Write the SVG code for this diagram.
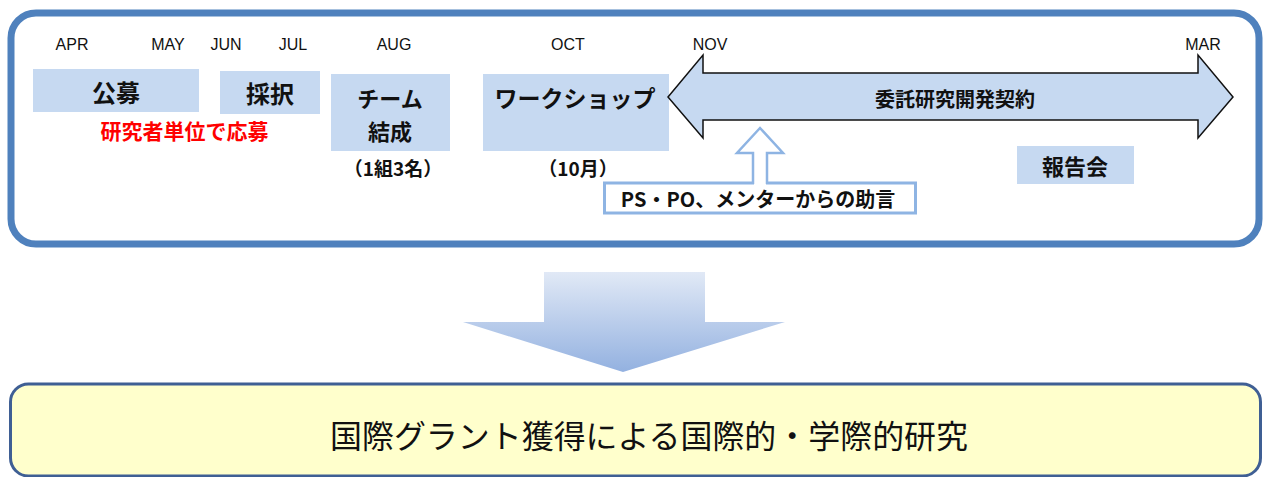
<svg xmlns="http://www.w3.org/2000/svg" width="1266" height="477" viewBox="0 0 1266 477">
<defs>
<linearGradient id="gDown" x1="0" y1="0" x2="0" y2="1">
<stop offset="0" stop-color="#e1e9f6"/>
<stop offset="1" stop-color="#93b1e0"/>
</linearGradient>
<style>
.month{font-family:"Liberation Sans",Arial,sans-serif;font-size:16px;fill:#111;text-anchor:middle}
.jp{font-family:"Noto Sans CJK JP","Noto Sans",sans-serif;font-weight:bold;fill:#111;text-anchor:middle;dominant-baseline:central}
.box{fill:#c6d9f1}
</style>
</defs>
<rect x="11" y="13" width="1248" height="231" rx="25" fill="#ffffff" stroke="#4f81bd" stroke-width="7"/>
<g id="months">
<text class="month" x="72" y="50">APR</text>
<text class="month" x="168" y="50">MAY</text>
<text class="month" x="226" y="50">JUN</text>
<text class="month" x="293" y="50">JUL</text>
<text class="month" x="394" y="50">AUG</text>
<text class="month" x="568" y="50">OCT</text>
<text class="month" x="710" y="50">NOV</text>
<text class="month" x="1203" y="50">MAR</text>
</g>
<g id="koubo">
<rect class="box" x="33" y="69" width="166" height="43"/>
<text class="jp" x="116" y="91" font-size="24">公募</text>
<text class="jp" x="184.5" y="130" font-size="21" style="fill:#ff0000">研究者単位で応募</text>
</g>
<g id="saitaku">
<rect class="box" x="220" y="71" width="100" height="43"/>
<text class="jp" x="270" y="92" font-size="24">採択</text>
</g>
<g id="team">
<rect class="box" x="331" y="74" width="119" height="77"/>
<text class="jp" x="390" y="97" font-size="22">チーム</text>
<text class="jp" x="390" y="130" font-size="22">結成</text>
<text class="jp" x="393" y="167" font-size="19">（1組3名）</text>
</g>
<g id="workshop">
<rect class="box" x="483" y="74" width="186" height="77"/>
<text class="jp" x="575" y="97" font-size="23">ワークショップ</text>
<text class="jp" x="578" y="167" font-size="19">（10月）</text>
</g>
<g id="contract">
<path d="M668,97 L703,55 L703,73 L1198,73 L1198,55 L1233,97 L1198,138 L1198,120 L703,120 L703,138 Z" fill="#c6d9f1" stroke="#111" stroke-width="1.5" stroke-linejoin="miter"/>
<text class="jp" x="955" y="98" font-size="20">委託研究開発契約</text>
</g>
<g id="report">
<rect class="box" x="1017" y="146" width="117" height="38"/>
<text class="jp" x="1075" y="165" font-size="22">報告会</text>
</g>
<g id="advice">
<rect x="604.5" y="183" width="311" height="30" fill="#ffffff" stroke="#8eb4e3" stroke-width="3"/>
<text class="jp" x="758" y="198.5" font-size="20">PS・PO、メンターからの助言</text>
</g>
<g id="connectors">
<rect x="754" y="150" width="12" height="36" fill="#ffffff"/>
<path d="M753,184 L753,153 L737,153 L760,128 L783,153 L767,153 L767,184" fill="none" stroke="#8eb4e3" stroke-width="2.5" stroke-linejoin="miter"/>
<path d="M544,272 L705,272 L705,322 L785,322 L623,372 L463,322 L544,322 Z" fill="url(#gDown)"/>
</g>
<g id="result">
<rect x="10.5" y="384" width="1250" height="92" rx="18" fill="#ffffcc" stroke="#3f5f94" stroke-width="3"/>
<text x="649" y="434" font-family="Noto Sans CJK JP, sans-serif" font-size="32" fill="#111" text-anchor="middle" dominant-baseline="central" textLength="638" lengthAdjust="spacingAndGlyphs">国際グラント獲得による国際的・学際的研究</text>
</g>
</svg>
